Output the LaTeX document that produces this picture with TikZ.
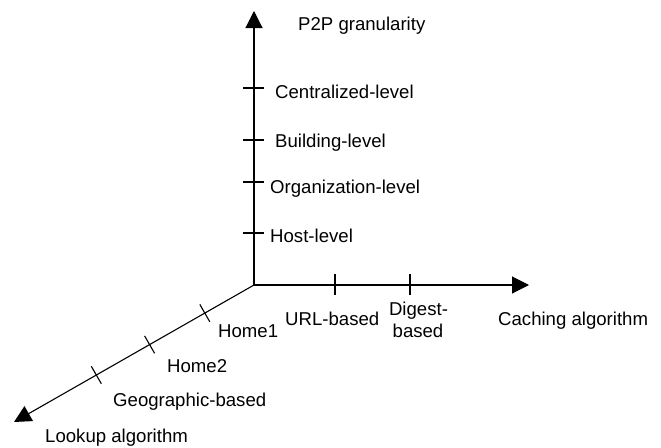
\documentclass[tikz,border=0pt]{standalone}
\usepackage{fontspec}
\setmainfont{Liberation Sans}
\usetikzlibrary{arrows.meta,calc}
\begin{document}
\begin{tikzpicture}[x=1pt,y=-1pt,
  axis/.style={line width=1.1pt,-{Triangle[length=17pt,width=17pt]}},
  tickmark/.style={line width=1.1pt},
  lbl/.style={anchor=base west,inner sep=0pt,font=\fontsize{18.6}{22}\selectfont},
  clbl/.style={anchor=base,inner sep=0pt,font=\fontsize{18.6}{22}\selectfont}]
\useasboundingbox (0,0) rectangle (661,447);
% axes
\coordinate (O) at (254,285);
\coordinate (Ztip) at (254,11);
\coordinate (Xtip) at (529,285);
\coordinate (Ytip) at (14,422);
\draw[axis] (O) -- (Ztip);
\draw[axis] (O) -- (Xtip);
\draw[axis] (O) -- (Ytip);
% vertical ticks
\foreach \n/\yy in {z1/88,z2/140,z3/182,z4/233}{
  \coordinate (\n) at (254,\yy);
  \draw[tickmark] ($(\n)+(-11,0)$) -- ($(\n)+(10,0)$);
}
% horizontal ticks
\foreach \n/\xx in {x1/335,x2/410}{
  \coordinate (\n) at (\xx,285);
  \draw[tickmark] ($(\n)+(0,-11)$) -- ($(\n)+(0,10)$);
}
% diagonal ticks
\foreach \n/\t in {y1/0.205,y2/0.435,y3/0.657}{
  \coordinate (\n) at ($(O)!\t!(Ytip)$);
  \draw[tickmark] ($(\n)+(-5,-8.7)$) -- ($(\n)+(5,8.7)$);
}
% labels
\node[lbl] (lz) at (298,30) {P2P granularity};
\node[lbl] (l1) at (275,98) {Centralized-level};
\node[lbl] (l2) at (275,147) {Building-level};
\node[lbl] (l3) at (270,193) {Organization-level};
\node[lbl] (l4) at (270,242) {Host-level};
\node[lbl] (lu) at (285,325) {URL-based};
\node[clbl] (ld1) at (418.5,315) {Digest-};
\node[clbl] (ld2) at (418,337) {based};
\node[lbl] (lx) at (498,325) {Caching algorithm};
\node[lbl] (lh1) at (218,337) {Home1};
\node[lbl] (lh2) at (167,372) {Home2};
\node[lbl] (lg) at (113,406) {Geographic-based};
\node[lbl] (ly) at (45,442) {Lookup algorithm};
\end{tikzpicture}
\end{document}
